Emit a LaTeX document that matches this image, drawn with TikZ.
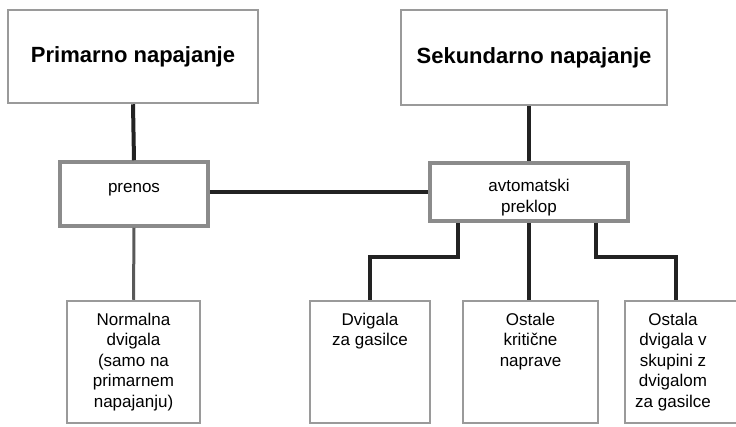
\documentclass[tikz,border=0pt]{standalone}
\usepackage{fontspec}
\setmainfont{Liberation Sans}
\usepackage{tikz}
\usetikzlibrary{positioning}

\definecolor{okvir}{HTML}{9A9A9A}
\definecolor{vod}{HTML}{222222}
\newcommand{\spodaj}[2]{\parbox[c][122pt][t]{#1}{\vspace*{12pt}\centering #2}}

\begin{document}
\begin{tikzpicture}[x=1pt,y=-1pt,
		box/.style={draw=okvir, line width=2.5pt, fill=white, inner sep=0pt,
			font=\fontsize{17}{20.5}\selectfont},
		glavni/.style={box, font=\fontsize{22}{26}\selectfont\bfseries},
		stikalo/.style={box, line width=3.5pt, draw=okvir!90!black},
		porabnik/.style={box, minimum height=122pt},
		vod/.style={draw=vod, line width=4pt},
		vodsiv/.style={draw=black!65, line width=3pt}]
			%%%	Okvir
			\useasboundingbox (0,0) rectangle (736,426);
			%%%	Napajanje
			\node[glavni, minimum width=250pt, minimum height=93pt] (prim) at (133,56.5)
				{\raisebox{4pt}{Primarno napajanje}};
			\node[glavni, minimum width=266pt, minimum height=95pt] (sek) at (534,57.5)
				{\raisebox{4pt}{Sekundarno napajanje}};
			%%%	Preklop
			\node[stikalo, minimum width=148pt, minimum height=64pt] (pren) at (134,194)
				{\raisebox{1.5pt}[0pt][0pt]{prenos}};
			\node[stikalo, minimum width=198pt, minimum height=58pt] (avt) at (529,192)
				{\raisebox{-10pt}[0pt][0pt]{\begin{tabular}{c}avtomatski\\preklop\end{tabular}}};
			%%%	Porabniki
			\node[porabnik] (norm) at (133.5,362)
				{\spodaj{133pt}{Normalna\\dvigala\\(samo na\\primarnem\\napajanju)}};
			\node[porabnik] (dvig) at (370,362)
				{\spodaj{120pt}{Dvigala\\za gasilce}};
			\node[porabnik] (ost) at (530.5,362)
				{\spodaj{135pt}{Ostale\\kritične\\naprave}};
			\node[porabnik, minimum width=125pt] (ostd) at (687.5,362)
				{\spodaj{96pt}{Ostala\\dvigala v\\skupini z\\dvigalom\\za gasilce}\kern29pt};
			%%%	Vodi
			\draw[vod] (prim.south) -- (pren.north);
			\draw[vod] (avt.north |- sek.south) -- (avt.north);
			\draw[vod] (pren.east |- avt.west) -- (avt.west);
			\draw[vodsiv] (pren.south) -- (norm.north);
			\draw[vod] ([xshift=-71pt]avt.south) -- ++(0,34) -| (dvig.north);
			\draw[vod] (avt.south) -- (avt.south |- ost.north);
			\draw[vod] ([xshift=67pt]avt.south) -- ++(0,34) -| ([xshift=-12pt]ostd.north);
		\end{tikzpicture}
\end{document}
